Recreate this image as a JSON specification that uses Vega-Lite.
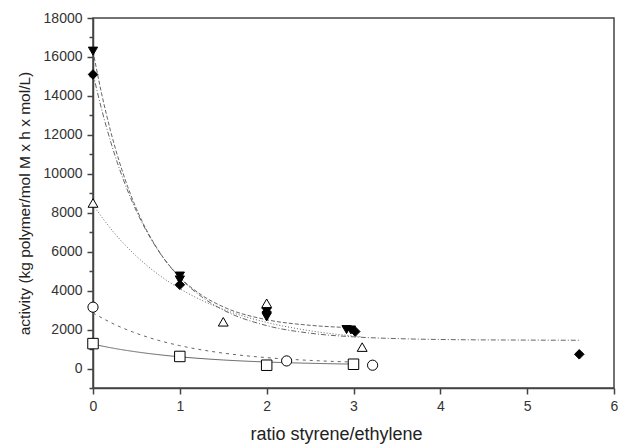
{
  "$schema": "https://vega.github.io/schema/vega-lite/v6.json",
  "autosize": {"type": "none"},
  "padding": {"left": 93, "top": 18, "right": 9, "bottom": 60},
  "width": 521,
  "height": 370,
  "background": "white",
  "config": {
    "view": {"stroke": "#444", "strokeWidth": 1.5},
    "font": "Liberation Sans",
    "axis": {
      "domainColor": "#444", "domainWidth": 1.5,
      "tickColor": "#444", "tickWidth": 1.5,
      "labelColor": "#333", "titleColor": "#222",
      "labelFont": "Liberation Sans", "titleFont": "Liberation Sans",
      "titleFontWeight": "normal", "grid": false
    }
  },
  "datasets": {
    "curves": [
      {"curve": "A", "x": 0, "y": 15150}, {"curve": "A", "x": 0.1, "y": 13300}, {"curve": "A", "x": 0.2, "y": 11700},
      {"curve": "A", "x": 0.3, "y": 10315}, {"curve": "A", "x": 0.4, "y": 9120}, {"curve": "A", "x": 0.5, "y": 8085},
      {"curve": "A", "x": 0.75, "y": 6067}, {"curve": "A", "x": 1, "y": 4664}, {"curve": "A", "x": 1.25, "y": 3687},
      {"curve": "A", "x": 1.5, "y": 3006}, {"curve": "A", "x": 2, "y": 2204}, {"curve": "A", "x": 2.5, "y": 1815},
      {"curve": "A", "x": 3, "y": 1627}, {"curve": "A", "x": 3.5, "y": 1536}, {"curve": "A", "x": 4, "y": 1491},
      {"curve": "A", "x": 5, "y": 1460}, {"curve": "A", "x": 5.6, "y": 1452},
      {"curve": "B", "x": 0, "y": 16300}, {"curve": "B", "x": 0.1, "y": 14100}, {"curve": "B", "x": 0.2, "y": 12240},
      {"curve": "B", "x": 0.3, "y": 10666}, {"curve": "B", "x": 0.4, "y": 9333}, {"curve": "B", "x": 0.5, "y": 8205},
      {"curve": "B", "x": 0.75, "y": 6087}, {"curve": "B", "x": 1, "y": 4690}, {"curve": "B", "x": 1.25, "y": 3773},
      {"curve": "B", "x": 1.5, "y": 3168}, {"curve": "B", "x": 2, "y": 2507}, {"curve": "B", "x": 2.5, "y": 2220},
      {"curve": "B", "x": 3, "y": 2095},
      {"curve": "C", "x": 0, "y": 8400}, {"curve": "C", "x": 0.25, "y": 6935}, {"curve": "C", "x": 0.5, "y": 5767},
      {"curve": "C", "x": 0.75, "y": 4837}, {"curve": "C", "x": 1, "y": 4098}, {"curve": "C", "x": 1.25, "y": 3508},
      {"curve": "C", "x": 1.5, "y": 3039}, {"curve": "C", "x": 2, "y": 2368}, {"curve": "C", "x": 2.5, "y": 1940},
      {"curve": "C", "x": 3, "y": 1670}, {"curve": "C", "x": 3.1, "y": 1629},
      {"curve": "D", "x": 0, "y": 2850}, {"curve": "D", "x": 0.25, "y": 2264}, {"curve": "D", "x": 0.5, "y": 1807},
      {"curve": "D", "x": 0.75, "y": 1451}, {"curve": "D", "x": 1, "y": 1175}, {"curve": "D", "x": 1.5, "y": 791},
      {"curve": "D", "x": 2, "y": 559}, {"curve": "D", "x": 2.5, "y": 417}, {"curve": "D", "x": 3, "y": 332},
      {"curve": "E", "x": 0, "y": 1250}, {"curve": "E", "x": 0.25, "y": 1030}, {"curve": "E", "x": 0.5, "y": 855},
      {"curve": "E", "x": 0.75, "y": 714}, {"curve": "E", "x": 1, "y": 602}, {"curve": "E", "x": 1.5, "y": 439},
      {"curve": "E", "x": 2, "y": 335}, {"curve": "E", "x": 2.5, "y": 269}, {"curve": "E", "x": 3, "y": 226}
    ],
    "points": [
      {"series": "tri_down", "x": 0, "y": 16300}, {"series": "tri_down", "x": 1, "y": 4750},
      {"series": "tri_down", "x": 1, "y": 4550}, {"series": "tri_down", "x": 2, "y": 2650},
      {"series": "tri_down", "x": 2.92, "y": 2000}, {"series": "tri_down", "x": 2.97, "y": 1980},
      {"series": "diamond", "x": 0, "y": 15100}, {"series": "diamond", "x": 1, "y": 4300},
      {"series": "diamond", "x": 2, "y": 3100}, {"series": "diamond", "x": 2, "y": 2900},
      {"series": "diamond", "x": 3.02, "y": 1900}, {"series": "diamond", "x": 5.6, "y": 730},
      {"series": "tri_up", "x": 0, "y": 8500}, {"series": "tri_up", "x": 1.5, "y": 2400},
      {"series": "tri_up", "x": 2, "y": 3350}, {"series": "tri_up", "x": 3.1, "y": 1100},
      {"series": "circle", "x": 0, "y": 3150}, {"series": "circle", "x": 2.23, "y": 390},
      {"series": "circle", "x": 3.22, "y": 170},
      {"series": "square", "x": 0, "y": 1280}, {"series": "square", "x": 1, "y": 620},
      {"series": "square", "x": 2, "y": 170}, {"series": "square", "x": 3, "y": 220}
    ]
  },
  "encoding": {
    "x": {
      "field": "x", "type": "quantitative",
      "scale": {"domain": [0, 6], "nice": false, "zero": false},
      "axis": {
        "title": "ratio styrene/ethylene",
        "values": [0, 0.5, 1, 1.5, 2, 2.5, 3, 3.5, 4, 4.5, 5, 5.5, 6],
        "format": "d",
        "labelExpr": "datum.value % 1 === 0 ? datum.label : ''",
        "tickSize": {"condition": {"test": "datum.value % 1 !== 0", "value": 4}, "value": 6},
        "labelPadding": 5, "labelFontSize": 14, "labelFlush": false, "labelOverlap": false,
        "titleFontSize": 18, "titlePadding": 12, "titleX": 243, "titleAlign": "center"
      }
    },
    "y": {
      "field": "y", "type": "quantitative",
      "scale": {"domain": [-1000, 18000], "nice": false, "zero": false},
      "axis": {
        "title": "activity (kg polymer/mol M x h x mol/L)",
        "values": [-1000, 0, 1000, 2000, 3000, 4000, 5000, 6000, 7000, 8000, 9000, 10000, 11000, 12000, 13000, 14000, 15000, 16000, 17000, 18000],
        "format": "d",
        "labelExpr": "(datum.value % 2000 === 0 && datum.value >= 0) ? datum.label : ''",
        "tickSize": {"condition": {"test": "datum.value % 2000 !== 0", "value": 4}, "value": 6},
        "labelPadding": 5, "labelFontSize": 14, "labelFlush": false, "labelOverlap": false,
        "titleFontSize": 15.5, "titlePadding": 11
      }
    }
  },
  "layer": [
    {
      "data": {"name": "curves"},
      "mark": {"type": "line", "interpolate": "monotone", "strokeWidth": 1, "color": "#666"},
      "encoding": {
        "detail": {"field": "curve"},
        "strokeDash": {
          "field": "curve", "type": "nominal",
          "scale": {"domain": ["A", "B", "C", "D", "E"], "range": [[5, 2, 1, 2], [4, 2], [1, 2], [3, 4], [1, 0]]},
          "legend": null
        }
      }
    },
    {
      "data": {"name": "points"},
      "mark": {"type": "point", "filled": false, "strokeWidth": 1, "opacity": 1},
      "encoding": {
        "shape": {
          "field": "series", "type": "nominal",
          "scale": {"domain": ["tri_down", "diamond", "tri_up", "circle", "square"], "range": ["triangle-down", "diamond", "triangle-up", "circle", "square"]},
          "legend": null
        },
        "size": {
          "field": "series", "type": "nominal",
          "scale": {"domain": ["tri_down", "diamond", "tri_up", "circle", "square"], "range": [85, 110, 85, 70, 70]},
          "legend": null
        },
        "fill": {
          "field": "series", "type": "nominal",
          "scale": {"domain": ["tri_down", "diamond", "tri_up", "circle", "square"], "range": ["#000", "#000", "#fff", "#fff", "#fff"]},
          "legend": null
        },
        "stroke": {"value": "#000"}
      }
    }
  ]
}
